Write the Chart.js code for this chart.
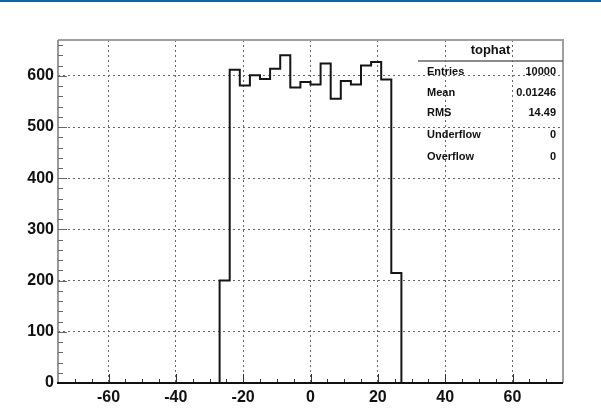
<!DOCTYPE html>
<html>
<head>
<meta charset="utf-8">
<script src="https://cdn.jsdelivr.net/npm/chart.js@4"></script>
<style>
  html, body { margin: 0; padding: 0; background: #fff; }
  #wrap { width: 601px; height: 414px; position: relative; }
</style>
</head>
<body>
<div id="wrap"><canvas id="c" width="601" height="414"></canvas></div>
<script>
/* ═══ DATA ══════════════════════════════════════ */
// left edges of the filled bins (bin width 3, range -75..75)
const binEdges  = [-27,-24,-21,-18,-15,-12,-9,-6,-3,0,3,6,9,12,15,18,21,24];
const binCounts = [200,612,581,601,594,614,640,577,588,583,624,555,590,583,620,627,593,215];
const binWidth  = 3;
const xTicks    = [-60,-40,-20,0,20,40,60];
const yTicks    = [0,100,200,300,400,500,600];
const statLabels = ['Entries','Mean','RMS','Underflow','Overflow'];
const statValues = ['10000','0.01246','14.49','0','0'];
const histName  = 'tophat';

const X_MIN = -75, X_MAX = 75, Y_MAX = 670;

// step outline: point at each bin's left edge, horizontal segment first
const pts = [{x: X_MIN, y: 0}, {x: binEdges[0], y: 0}];
binEdges.forEach((e, i) => pts.push({x: e, y: binCounts[i]}));
const lastEdge = binEdges[binEdges.length-1] + binWidth;
pts.push({x: lastEdge, y: 0});
pts.push({x: X_MAX, y: 0});

const FONT = 'Liberation Sans, Arial, sans-serif';

/* ═══ ROOT-STYLE FRAME / TICKS / STATS ══════════ */
const rootDecor = {
  id: 'rootDecor',
  beforeDraw(chart) {
    const ctx = chart.ctx;
    ctx.save();
    ctx.fillStyle = '#0b63aa';
    ctx.fillRect(0, 0, chart.width, 2);
    ctx.restore();
  },
  afterDraw(chart) {
    const {ctx, chartArea: a} = chart;
    const xs = chart.scales.x, ys = chart.scales.y;
    ctx.save();
    // frame top / right
    ctx.strokeStyle = '#a0a0a0'; ctx.lineWidth = 2;
    ctx.beginPath();
    ctx.moveTo(a.left, a.top); ctx.lineTo(a.right, a.top); ctx.lineTo(a.right, a.bottom);
    ctx.stroke();
    // left axis
    ctx.strokeStyle = '#777'; ctx.lineWidth = 1.5;
    ctx.beginPath(); ctx.moveTo(a.left, a.top); ctx.lineTo(a.left, a.bottom); ctx.stroke();
    // x ticks (inside)
    ctx.strokeStyle = '#333'; ctx.lineWidth = 1;
    for (let v = X_MIN + 5; v < X_MAX; v += 5) {
      const px = Math.round(xs.getPixelForValue(v)) + 0.5;
      const len = (v % 20 === 0) ? 9 : 4;
      ctx.beginPath(); ctx.moveTo(px, a.bottom); ctx.lineTo(px, a.bottom - len); ctx.stroke();
    }
    // y ticks (inside)
    ctx.strokeStyle = '#666';
    for (let v = 20; v < Y_MAX; v += 20) {
      const py = Math.round(ys.getPixelForValue(v)) + 0.5;
      const len = (v % 100 === 0) ? 9 : 5;
      ctx.beginPath(); ctx.moveTo(a.left, py); ctx.lineTo(a.left + len, py); ctx.stroke();
    }
    // x axis line
    ctx.strokeStyle = '#111'; ctx.lineWidth = 2;
    ctx.beginPath(); ctx.moveTo(a.left - 1, a.bottom); ctx.lineTo(a.right, a.bottom); ctx.stroke();

    // stats box
    const bx = 418, right = a.right - 7;
    ctx.strokeStyle = '#666'; ctx.lineWidth = 1.5;
    ctx.beginPath(); ctx.moveTo(bx, 61); ctx.lineTo(a.right, 61); ctx.stroke();
    ctx.fillStyle = '#111';
    ctx.font = 'bold 13px ' + FONT;
    ctx.textAlign = 'center'; ctx.textBaseline = 'middle';
    ctx.fillText(histName, (bx + a.right) / 2, 50);
    ctx.font = 'bold 11px ' + FONT;
    const rowsY = [72, 93, 113, 135, 157];
    statLabels.forEach((l, i) => {
      ctx.textAlign = 'left'; ctx.fillText(l, 427, rowsY[i]);
      ctx.textAlign = 'right'; ctx.fillText(statValues[i], right, rowsY[i]);
    });
    ctx.restore();
  }
};

/* ═══ CHART ═════════════════════════════════════ */
new Chart(document.getElementById('c'), {
  type: 'line',
  data: { datasets: [{
    data: pts, stepped: 'before',
    borderColor: '#151515', borderWidth: 2,
    pointRadius: 0, fill: false, tension: 0
  }]},
  options: {
    responsive: false, animation: false,
    layout: { padding: { left: 0, top: 40, right: 38, bottom: 0 } },
    plugins: { legend: { display: false }, tooltip: { enabled: false } },
    scales: {
      x: {
        type: 'linear', min: X_MIN, max: X_MAX,
        afterBuildTicks: s => { s.ticks = xTicks.map(v => ({value: v})); },
        afterFit: s => { s.height = 31; },
        grid: { color: '#666', lineWidth: 1, drawTicks: false },
        border: { display: false, dash: [2, 3] },
        ticks: { color: '#111', font: { family: FONT, size: 16, weight: 'bold' }, padding: 5, maxRotation: 0 }
      },
      y: {
        type: 'linear', min: 0, max: Y_MAX,
        afterBuildTicks: s => { s.ticks = yTicks.map(v => ({value: v})); },
        afterFit: s => { s.width = 58; },
        grid: { color: ctx => ctx.tick && ctx.tick.value === 0 ? 'rgba(0,0,0,0)' : '#666', lineWidth: 1, drawTicks: false },
        border: { display: false, dash: [2, 3] },
        ticks: { color: '#111', font: { family: FONT, size: 16, weight: 'bold' }, padding: 4 }
      }
    }
  },
  plugins: [rootDecor]
});
</script>
</body>
</html>
